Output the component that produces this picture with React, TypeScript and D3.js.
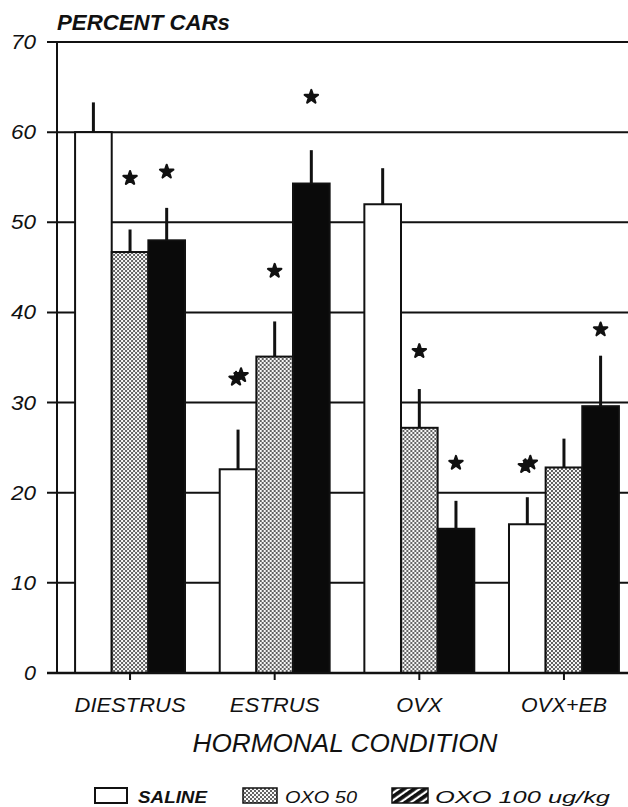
import React from "react";
import * as d3 from "d3";

const categories = ["DIESTRUS", "ESTRUS", "OVX", "OVX+EB"];
const seriesNames = ["SALINE", "OXO 50", "OXO 100 ug/kg"];
const saline = [60, 22.6, 52, 16.5];
const oxo50 = [46.7, 35.1, 27.2, 22.8];
const oxo100 = [48, 54.3, 16, 29.6];
const salineErr = [63.3, 27, 56, 19.5];
const oxo50Err = [49.2, 39, 31.5, 26];
const oxo100Err = [51.6, 58, 19.1, 35.2];
// significance markers: [category index, series index, marker level, double]
const markers: [number, number, number, boolean][] = [
  [0, 1, 54.9, false],
  [0, 2, 55.6, false],
  [1, 0, 32.8, true],
  [1, 1, 44.6, false],
  [1, 2, 63.9, false],
  [2, 1, 35.7, false],
  [2, 2, 23.3, false],
  [3, 0, 23.1, true],
  [3, 2, 38.1, false],
];
const yTicks = [0, 10, 20, 30, 40, 50, 60, 70];

const W = 628;
const H = 807;
const FONT = "'Liberation Sans', Arial, sans-serif";

export default function App() {
  const y = d3.scaleLinear().domain([0, 70]).range([673, 42]);
  const x0 = d3.scaleBand<string>().domain(categories).range([57, 637]).paddingInner(0.24).paddingOuter(0.125);
  const x1 = d3.scaleBand<string>().domain(seriesNames).range([0, x0.bandwidth()]);
  const values = [saline, oxo50, oxo100];
  const errs = [salineErr, oxo50Err, oxo100Err];
  const fills = ["#ffffff", "url(#dots)", "#0a0a0a"];
  const star = d3.symbol(d3.symbolStar, 55)() as string;

  return (
    <svg width={W} height={H} style={{ position: "absolute", left: 0, top: 0, background: "#fff" }}>
      <defs>
        <pattern id="dots" width={4} height={4} patternUnits="userSpaceOnUse">
          <rect width={4} height={4} fill="#f8f8f8" />
          <circle cx={1} cy={1} r={0.95} fill="#222" />
          <circle cx={3} cy={3} r={0.95} fill="#222" />
        </pattern>
        <pattern id="hatch" width={6} height={6} patternUnits="userSpaceOnUse" patternTransform="rotate(-35)">
          <rect width={6} height={6} fill="#fff" />
          <rect width={6} height={3.8} fill="#111" />
        </pattern>
      </defs>

      {/* grid lines */}
      {yTicks.map((t) => (
        <line key={"g" + t} x1={47} x2={W} y1={y(t)} y2={y(t)} stroke="#111" strokeWidth={2} />
      ))}
      {/* y axis */}
      <line x1={57} x2={57} y1={y(70)} y2={y(0)} stroke="#111" strokeWidth={2} />
      {yTicks.map((t) => (
        <text key={"t" + t} x={36} y={y(t) + 7} textAnchor="end" fontFamily={FONT} fontStyle="italic" fontSize={20} fill="#111" textLength={t === 0 ? 12 : 25} lengthAdjust="spacingAndGlyphs">
          {t}
        </text>
      ))}
      <text x={57} y={30} fontFamily={FONT} fontStyle="italic" fontWeight="bold" fontSize={22} fill="#111" textLength={173} lengthAdjust="spacingAndGlyphs">
        PERCENT CARs
      </text>

      {/* bars */}
      {categories.map((c, ci) => (
        <g key={c} transform={`translate(${x0(c)},0)`}>
          {seriesNames.map((s, si) => {
            const v = values[si][ci];
            const e = errs[si][ci];
            const bx = x1(s)!;
            const bw = x1.bandwidth();
            return (
              <g key={s}>
                <line x1={bx + bw / 2} x2={bx + bw / 2} y1={y(v)} y2={y(e)} stroke="#111" strokeWidth={3} />
                <rect x={bx} y={y(v)} width={bw} height={y(0) - y(v)} fill={fills[si]} stroke="#111" strokeWidth={2} />
              </g>
            );
          })}
        </g>
      ))}

      {/* x axis */}
      <line x1={47} x2={W} y1={y(0)} y2={y(0)} stroke="#111" strokeWidth={2.5} />
      {categories.map((c) => (
        <line key={"xl" + c} x1={x0(c)! + x0.bandwidth() / 2} x2={x0(c)! + x0.bandwidth() / 2} y1={y(0)} y2={y(0) + 7} stroke="#111" strokeWidth={2} />
      ))}
      {categories.map((c) => {
        const cx = x0(c)! + x0.bandwidth() / 2;
        const widths: Record<string, number> = { DIESTRUS: 111, ESTRUS: 90, OVX: 46, "OVX+EB": 86 };
        return (
          <text key={"xt" + c} x={cx} y={712} textAnchor="middle" fontFamily={FONT} fontStyle="italic" fontSize={21} fill="#111" textLength={widths[c]} lengthAdjust="spacingAndGlyphs">
            {c}
          </text>
        );
      })}
      <text x={345} y={752} textAnchor="middle" fontFamily={FONT} fontStyle="italic" fontSize={25} fill="#111" textLength={305} lengthAdjust="spacingAndGlyphs">
        HORMONAL CONDITION
      </text>

      {/* significance markers */}
      {markers.map(([ci, si, lvl, dbl], i) => {
        const cx = x0(categories[ci])! + x1(seriesNames[si])! + x1.bandwidth() / 2;
        const cy = y(lvl);
        return (
          <g key={"m" + i} fill="#111" stroke="#111" strokeWidth={2.2} strokeLinejoin="round">
            <path d={star} transform={`translate(${cx - (dbl ? 2 : 0)},${cy + (dbl ? 1.5 : 0)})`} />
            {dbl && <path d={star} transform={`translate(${cx + 3},${cy - 2})`} />}
          </g>
        );
      })}

      {/* legend */}
      <rect x={95} y={788} width={32} height={15} fill="#fff" stroke="#111" strokeWidth={2} />
      <text x={138} y={803} fontFamily={FONT} fontStyle="italic" fontWeight="bold" fontSize={16} fill="#111" textLength={69} lengthAdjust="spacingAndGlyphs">
        SALINE
      </text>
      <rect x={243} y={788} width={34} height={15} fill="url(#dots)" stroke="#111" strokeWidth={1.5} />
      <text x={285} y={803} fontFamily={FONT} fontStyle="italic" fontSize={16} fill="#111" textLength={72} lengthAdjust="spacingAndGlyphs">
        OXO 50
      </text>
      <rect x={392} y={788} width={36} height={15} fill="url(#hatch)" stroke="#111" strokeWidth={1.5} />
      <text x={435} y={803} fontFamily={FONT} fontStyle="italic" fontSize={16} fill="#111" textLength={175} lengthAdjust="spacingAndGlyphs">
        OXO 100 ug/kg
      </text>
    </svg>
  );
}
